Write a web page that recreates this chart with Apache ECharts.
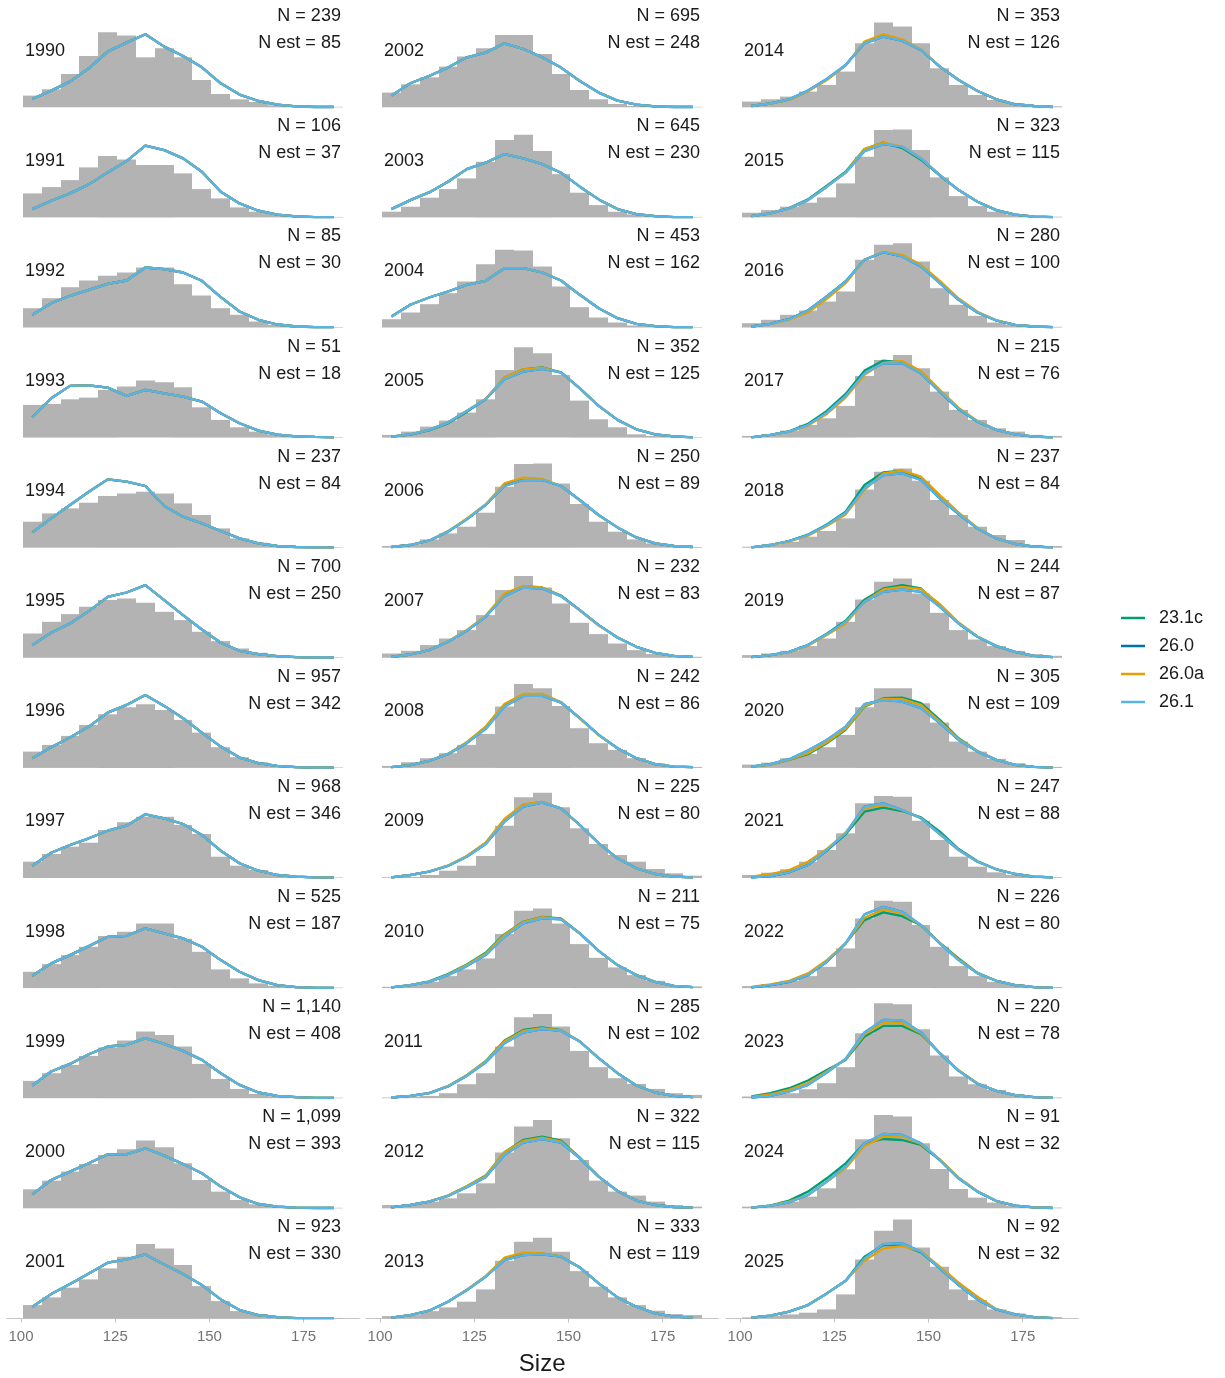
<!DOCTYPE html>
<html>
<head>
<meta charset="utf-8">
<script src="https://cdn.jsdelivr.net/npm/echarts@6/dist/echarts.min.js"></script>
<style>
html,body{margin:0;padding:0;background:#fff;}
#chart{width:1225px;height:1378px;}
</style>
</head>
<body>
<div id="chart"></div>
<script>
// ---------------- data ----------------
const YEARS = [1990,1991,1992,1993,1994,1995,1996,1997,1998,1999,2000,2001,
               2002,2003,2004,2005,2006,2007,2008,2009,2010,2011,2012,2013,
               2014,2015,2016,2017,2018,2019,2020,2021,2022,2023,2024,2025];
const N_OBS = [239,106,85,51,237,700,957,968,525,1140,1099,923,
               695,645,453,352,250,232,242,225,211,285,322,333,
               353,323,280,215,237,244,305,247,226,220,91,92];
const N_EST = [85,37,30,18,84,250,342,346,187,408,393,330,
               248,230,162,125,89,83,86,80,75,102,115,119,
               126,115,100,76,84,87,109,88,80,78,32,32];
const BIN_CENTERS = [103,108,113,118,123,128,133,138,143,148,153,158,163,168,173,178,183];
const BIN_WIDTH = 5;
const X_TICKS = [100,125,150,175];
const SERIES_NAMES = ['23.1c','26.0','26.0a','26.1'];
const SERIES_COLORS = ['#009E73','#0072B2','#E69F00','#56B4E9'];

// histogram heights (relative density units)
const HIST_1990 = [11.7,18,33.3,51.3,75,71.7,50,59,50,27.3,13.3,8,5.3,2,1,0.5,0.5];
const HIST_1991 = [24,30.3,37.3,50,61.3,58,52.3,52.3,44,28.3,19,10,5.7,3.3,1.3,0.5,0.5];
const HIST_1992 = [19.3,29.3,40.3,47,51.7,55,60,60,43.3,32,19.3,12.7,6,2.7,1,0.5,0.5];
const HIST_1993 = [32.7,33.7,38.3,40,47.7,51,57,55.3,50.3,30.3,17.7,10.3,6,3,1.7,1,0.5];
const HIST_1994 = [26,34.3,39.3,45,51.7,54.3,56,54.3,44.3,32.7,19.3,9.3,5,2.7,1,0.5,0.5];
const HIST_1995 = [24.3,36,43.7,51,57.7,59.3,55,46,37.7,26,16.7,9.3,5,2.7,1,0.5,0.5];
const HIST_1996 = [16.3,23,32,43,53.7,60.7,63.7,58,48,35.3,20.7,10.7,5.7,2.7,1.3,0.7,0.5];
const HIST_1997 = [16.3,24,31.3,35.3,48,55.7,61.3,61.3,53,44,21.3,12.3,8,3.7,1.7,1,0.5];
const HIST_1998 = [16.3,24,33,41.3,52,56.3,64.7,64.7,49.3,36.3,18.7,9.7,4.7,2.3,1,0.5,0.5];
const HIST_1999 = [17.3,25,33.3,42.3,50.7,57.7,66.7,63.3,51.7,34.3,19.3,9.3,4.3,2,1,0.5,0.5];
const HIST_2000 = [19,27.7,36.7,44.3,53.3,59,67.7,61,45,28.3,16.7,8.3,4,1.7,0.7,0.5,0.5];
const HIST_2001 = [13.3,21,30.7,39,50,61.7,74.3,70,53.3,32.3,17.3,7.3,4.3,1.7,0.7,0.5,0.5];
const HIST_2002 = [14.7,23,30,40.7,50.7,59,72.3,72.3,53.3,33.3,17.3,8,3.3,1.3,0.7,0.5,0.5];
const HIST_2003 = [5.7,10.7,19.7,28.3,39,55.7,77.3,82.7,66.3,43.3,24.7,12.3,5.7,3,1.3,0.5,0.5];
const HIST_2004 = [8.3,15,23.3,34.3,46,63.3,77.7,77,61,41,20.3,10,5,2,0.7,0.5,0.5];
const HIST_2005 = [2.7,6,11,17,25,38.3,67.7,90.3,84.3,62.7,37,18.3,10.3,3.3,1.7,1,0.5];
const HIST_2006 = [1.7,3.3,8.3,14.3,21,35,61,83.7,84.3,64.3,43.7,26,16,8.3,4.3,2,0.7];
const HIST_2007 = [4.3,7,12.7,19.3,27.7,42.7,67.7,81.7,70.3,54.3,35,23.7,14.3,7.7,3.7,2,1];
const HIST_2008 = [2,5.7,9.7,14.7,23,34,61.3,84,79.7,62,39.7,24.7,18,9.7,4.7,2,1];
const HIST_2009 = [0.7,1,3,7.3,12.3,22,52.3,80.7,85.3,70.7,49.7,34,23,16.3,9,4.7,2.3];
const HIST_2010 = [1.3,3,6.3,12,18.7,29.7,54,77.3,79.7,64.7,44,30.3,20.7,13,7.3,3,1.7];
const HIST_2011 = [0.7,1.7,2.3,5,14,25,51.7,81,84.3,71.7,47.3,31,20,14.3,9.3,5,3.3];
const HIST_2012 = [3.3,4,6.7,10,15,25,55.7,81.7,88.3,70,48.3,27.7,16.7,12.7,6.7,3.3,1.7];
const HIST_2013 = [2.3,3.3,7.3,11,16.7,29,57.7,76.7,80.7,66.7,47.3,31.7,21,13.3,7.7,4.3,3.3];
const HIST_2014 = [5.7,8,10.7,15.7,22.3,35.7,64,84.7,80.7,64,39,22.3,12.3,7.3,4,2,1];
const HIST_2015 = [4.7,7.3,10.7,14.7,20,34,60.7,87.3,88,67.3,40,21.3,11.3,5.7,3,1.3,0.7];
const HIST_2016 = [4.3,7.7,12.7,17,26,36,67.7,82.7,84.3,66,39.3,22.7,11.7,5,2.7,1.3,0.7];
const HIST_2017 = [1.7,3.3,7,12.7,19.3,31.7,61.7,77.7,82.7,69.3,46,27.7,17.7,9.3,6,2.7,1.7];
const HIST_2018 = [1,2.7,6,11,16.7,29.3,58.3,76,79.3,67,47.7,32.7,21,12.7,7.7,2.7,1.7];
const HIST_2019 = [2.7,4.3,7,11.7,19.3,36,58.3,76,79.3,64.3,45,27.7,18.3,11.7,7,3.7,2];
const HIST_2020 = [3.3,5.3,9.7,14,20.7,33,60.7,79.7,79.7,64.7,45.3,26.3,16.3,9,4.7,2,1];
const HIST_2021 = [3,5.3,8.7,16.3,28,44.7,74.7,82,81.3,57.3,38,21.3,11.3,5.7,3,1.3,0.7];
const HIST_2022 = [2,4,7.3,12,21.3,39.7,69.7,87.3,86.3,63,41.3,22,12,6.3,4,2,1];
const HIST_2023 = [1.7,3.3,5,9,15,31,65,95,94,69,42.7,21.7,14,8.3,4,1.7,0.7];
const HIST_2024 = [1.7,3.3,6.7,11.7,20,39,69,93.3,91.7,65,39.3,19.3,10.7,5.7,2.7,1.3,0.7];
const HIST_2025 = [1,2.3,4,5.7,9,24,59,87.7,99,71,51.7,29,18.3,9,5,2.3,1.3];

// fitted curves (same units); early years: all model versions overlap
const FIT_1990 = [8.3,16.7,25.7,39,55.7,64.7,73,60.7,51.3,40,24,12.7,6.3,2.7,1,0.3,0.3];
const FIT_1991 = [8.3,16.7,24,33,45,56.3,71.7,67.3,59,45.7,25.7,14,6.7,2.7,1,0.3,0.3];
const FIT_1992 = [12.7,24.3,31.7,37.7,43.7,47,60,58.3,55,46.7,30.3,16,7.7,3,1,0.3,0.3];
const FIT_1993 = [20.3,39.3,51.7,52.3,50,41.7,47.7,44.3,41,36,24.3,14.3,7,3,1.3,0.7,0.3];
const FIT_1994 = [15.3,29.3,42.7,56,68.3,66,61.7,41.7,31,24.3,16.7,9.3,4.3,1.7,0.7,0.3,0.3];
const FIT_1995 = [12.7,25,34.3,46.7,61,65.3,72.7,57.7,42.7,28.3,15,7,3.7,1.7,0.7,0.3,0.3];
const FIT_1996 = [9.7,20.7,30.3,41.3,55.3,63,73,62,49.7,35.3,21.3,10.3,4.7,2,0.7,0.3,0.3];
const FIT_1997 = [12.3,25.3,33,39.7,47.3,52.3,63.7,59.7,54,43,27.3,14.7,7.3,3,1.3,0.7,0.3];
const FIT_1998 = [12.3,24.7,33,42,51.3,52.3,59.7,54.7,49.7,41.3,28,16.3,8,3,1,0.3,0.3];
const FIT_1999 = [12.7,26.7,34.3,44,51.7,53.3,60,54.3,47.3,38.3,25,13.3,5.7,2.3,1,0.3,0.3];
const FIT_2000 = [14,28.3,36.7,45,54,54,60,52.7,44.3,35,21.7,11,4.3,1.7,0.7,0.3,0.3];
const FIT_2001 = [11.7,24.3,34.3,45,55.7,59,64,54,44.3,33.3,19,8.3,3.3,1.3,0.3,0.3,0.3];
const FIT_2002 = [11.7,24,31.3,39.7,50,54.7,64,58.3,50,39.7,26.3,14.7,6.7,2.7,1,0.3,0.3];
const FIT_2003 = [8.3,17.3,25,35.7,48.3,54.7,63.3,59,53.3,44.7,30.7,18,8.3,3.3,1.3,0.3,0.3];
const FIT_2004 = [11,22.7,30,36,42.7,46.7,59.3,59.3,55,47,32.7,19.3,9.3,3.7,1.3,0.3,0.3];

const FIT_2005_261  = [1,3.3,7.7,15,26.7,38.3,58.3,66,68.7,65.3,49.3,31.7,17.7,8.3,3.3,1.3,0.3];
const FIT_2005_231c = [1,3,7.3,14.3,25.7,38.3,60,68.3,70.3,65.3,49.3,31.7,17.7,8.3,3.3,1.3,0.3];
const FIT_2005_260a = [1,3.3,7.7,15,26.7,38.7,60,68.3,70,65,49.3,31.7,17.7,8.3,3.3,1.3,0.3];
const FIT_2006_261  = [0.7,2.7,7,16,28.3,42.7,61.7,67.7,67.7,61.7,47.7,32.7,20.3,10.3,4.3,1.7,0.7];
const FIT_2006_231c = [0.7,2.7,7,16.3,28.7,43,63.3,69.3,68.3,61.7,47.3,32.3,20.3,10.3,4.3,1.7,0.7];
const FIT_2006_260a = [0.7,2.7,7,16.3,29,43.3,64.3,70,68.7,61.7,47.3,32.3,20.3,10.3,4.3,1.7,0.7];
const FIT_2007_261  = [1,3.3,7.7,16,27,41,61.7,70.3,69.3,61.7,47.7,32.7,20.3,11,5,2,1];
const FIT_2007_231c = [1,3.3,7.7,16,27.3,41.3,63,71.3,70.3,62.3,47.7,32.7,20.3,11,5,2,1];
const FIT_2007_260a = [1,3.3,7.7,16.3,27.7,42,64.3,72,70.3,61.7,47.3,32.3,20.3,11,5,2,1];
const FIT_2008_261  = [0.7,2.7,7,13.7,24.7,39,61.3,72,72.3,65.3,49.7,33,19.7,9.7,3.7,1.3,0.7];
const FIT_2008_231c = [0.7,2.7,7,14,25.3,40.7,63.3,73.3,73.7,65.7,49.7,33,19.7,9.7,3.7,1.3,0.7];
const FIT_2008_260a = [0.7,2.7,7,14,25.7,41.3,64,74,74,65.7,49.3,32.7,19.7,9.7,3.7,1.3,0.7];
const FIT_2009_261  = [0.7,3,6.3,12,21.3,34,56.3,71.3,75.3,69.7,53,34.7,19.7,9.7,4,1.3,0.7];
const FIT_2009_231c = [0.7,3,6.3,12.3,21.7,35,58.3,73,76,69.7,53,34.7,19.7,9.7,4,1.3,0.7];
const FIT_2009_260a = [0.7,3,6.3,12.3,22,35.3,59,73.7,76,69.7,52.7,34.3,19.7,9.7,4,1.3,0.7];
const FIT_2010_261  = [0.7,3,6.3,13,22,33,51.3,64.7,69.7,68.7,54.7,37.3,23,13,6.3,2.3,1];
const FIT_2010_231c = [0.7,3,6.7,14,23.7,35.3,54,66.3,71.3,69.7,54.7,37.3,23,13,6.3,2.3,1];
const FIT_2010_260a = [0.7,3,6.3,13.3,23,34.3,53.3,66,71,69.3,54.3,37.3,23,13,6.3,2.3,1];
const FIT_2011_261  = [0.7,2.3,5,11.7,22.3,35.7,55,65.7,69,67.3,56.7,40,25,12.7,5.7,2.3,1];
const FIT_2011_231c = [0.7,2.3,5,12,23,37,57.7,68.3,70.7,68,56.7,40,25,12.7,5.7,2.3,1];
const FIT_2011_260a = [0.7,2.3,5,12,22.7,36.7,57,67.3,70,67.7,56.7,40,25,12.7,5.7,2.3,1];
const FIT_2012_261  = [1,3.3,6.7,12.3,21,31,53.3,65.7,69.3,65.7,50,31.7,17.3,7.7,3.3,1.3,0.7];
const FIT_2012_231c = [1,3.3,6.7,12.7,22,32.7,56,68.3,71.7,67.7,50.7,31.7,17.3,7.7,3.3,1.3,0.7];
const FIT_2012_260a = [1,3.3,6.7,12.7,21.7,32.3,56,67.3,70.7,66.7,50.3,31.7,17.3,7.7,3.3,1.3,0.7];
const FIT_2013_261  = [0.7,3.3,7.7,16.7,28.3,41.7,58.3,63.3,64,61.7,51,35,21,11.7,5,1.7,0.7];
const FIT_2013_231c = [0.7,3.3,7.7,16.7,28.3,42,59.7,64.7,64.7,62,51,35,21,11.7,5,1.7,0.7];
const FIT_2013_260a = [0.7,3.3,7.7,16.7,28.7,42.3,60.7,65.7,65,62,50.7,35,21,11.7,5,1.7,0.7];
const FIT_2014_261  = [1.3,4,8,16.7,28.3,42.3,64,70.7,66.7,57.3,40.7,27.3,16.3,8,3,1.3,0.3];
const FIT_2014_231c = [1.3,3.7,7.7,16.3,27.7,42,65,72,67.3,57.3,40.7,27.3,16.3,8,3,1.3,0.3];
const FIT_2014_260a = [1.3,3.7,7.7,16,27.3,41.7,65.7,73,68,57.7,40.7,27.3,16.3,8,3,1.3,0.3];
const FIT_2015_261  = [1.3,4,9,17.3,30.7,44.7,66.3,73.3,70.7,59,42.3,27.3,15.7,7.3,2.7,0.7,0.3];
const FIT_2015_231c = [1.3,4,9.3,18,31.7,45.7,68.3,74.7,69.3,57.7,41.7,27.3,15.7,7.3,2.7,0.7,0.3];
const FIT_2015_260a = [1.3,4,9,17.3,30.7,45,68.3,74.7,70.7,59,42.3,27.3,15.7,7.3,2.7,0.7,0.3];
const FIT_2016_261  = [1,3.7,8.3,17,31,46,67.7,75.3,71,61,44.3,27.7,15,7,2.7,1,0.3];
const FIT_2016_231c = [1,3.7,8.3,17,31,46,67.7,75.3,71.3,61.3,44.7,27.7,15,7,2.7,1,0.3];
const FIT_2016_260a = [1,3.3,7.7,15,28.7,44.3,67.7,75.7,72.7,62.7,46.7,29,15.7,7.3,2.7,1,0.3];
const FIT_2017_261  = [0.3,2.7,6,12.7,25,41.7,64.3,74.3,74.3,64.3,46,28.7,16,7.7,3.3,1,0.3];
const FIT_2017_231c = [0.3,2.7,6.3,13.7,26.7,43.7,67,77,75.3,64.3,45.7,28.3,16,7.7,3.3,1,0.3];
const FIT_2017_260a = [0.3,2.7,5.7,12,23.7,40,62.7,74.7,76.7,66.7,47.7,29.7,16.7,7.7,3.3,1,0.3];
const FIT_2018_261  = [0.3,2.7,6.7,12.7,22.7,35,59.3,72.7,74.3,67.7,49.3,33.7,19.3,9.3,3.7,1,0.3];
const FIT_2018_231c = [0.3,2.7,6.7,13,23.3,36,62.7,75.3,77,68.3,49.3,33.7,19.3,9.3,3.7,1,0.3];
const FIT_2018_260a = [0.3,2.7,6.3,12,21.7,33.3,57.7,74.3,77,71,52.7,35,19.7,9.3,3.7,1,0.3];
const FIT_2019_261  = [0.7,2.7,6,12.7,23.7,36,56,66,68.3,66,51,34.3,21,11.7,6,2,0.7];
const FIT_2019_231c = [0.7,2.7,6,12.7,24,37,58,69.3,72.7,69.3,52,34.3,21,11.7,6,2,0.7];
const FIT_2019_260a = [0.7,2.7,5.7,12,22.7,34.3,56,68.3,71,68.7,53.7,35.3,21.3,11.7,6,2,0.7];
const FIT_2020_261  = [1.3,3.7,8.7,17.3,28,41.3,63.7,68,66.3,59.7,44.7,28,16.3,8,3,1,0.3];
const FIT_2020_231c = [1.3,3.3,8,13.7,24.7,38,61.3,69.7,70.3,64.7,48,29.7,16.7,8,3,1,0.3];
const FIT_2020_260a = [1.3,3.3,8.3,14.7,25.7,39,62,69,68.7,63,46.3,29,16.7,8,3,1,0.3];
const FIT_2021_261  = [0.7,2,5.7,13,28,44.7,71.3,74.7,68,59.7,44,28,16.3,8.7,4,1.3,0.7];
const FIT_2021_231c = [0.7,2,5.7,13,27.3,43.7,66.3,70.3,67,60.7,46.3,29,16.7,8.7,4,1.3,0.7];
const FIT_2021_260a = [1.3,4,8,16.3,29,45.3,69.7,73,68,59.7,44,28,16.3,8.7,4,1.3,0.7];
const FIT_2022_261  = [0.7,3,6.3,13,26.3,44.7,73.7,81.3,76.3,63,44.7,28,14.7,7.3,3,1,0.3];
const FIT_2022_231c = [0.7,3,6.3,13,26.3,44.7,68,75.7,72,63,45.3,29.7,15.3,7.3,3,1,0.3];
const FIT_2022_260a = [1.3,3.7,7.3,14.7,28,44.7,70.3,78.7,74.7,63,45,28.7,15,7.3,3,1,0.3];
const FIT_2023_261  = [0.7,2.3,6.7,13.3,25.7,39.3,65.7,78.3,77.7,65.7,45,27.3,14.3,7.3,3,1,0.3];
const FIT_2023_231c = [1.7,5,10,17.7,28.3,38.3,61.7,72.3,72.3,64,45,27.7,14.7,7.3,3,1,0.3];
const FIT_2023_260a = [1.3,3.7,8.3,15,26.7,39,64,75,75,65,45,27.7,14.7,7.3,3,1,0.3];
const FIT_2024_261  = [0.7,2.7,6,13.3,26.7,41.7,65,74.3,73.3,65,48.3,30,16.7,7.3,2.7,1,0.3];
const FIT_2024_231c = [0.7,2.7,7.7,16.7,30,45,65,69.3,68.3,63.3,48.3,30,16.7,7.3,2.7,1,0.3];
const FIT_2024_260a = [0.7,2.7,6.7,13.3,26.7,40,62.3,71.7,71.7,64.3,49,30.7,17,7.3,2.7,1,0.3];
const FIT_2025_261  = [0.7,2.7,6.7,13.3,25,37.7,60,74.3,75,66.7,50,33.3,19,9,4,1.3,0.3];
const FIT_2025_231c = [0.7,2.7,6.7,13.3,25,37.7,61.7,73.3,73.3,66,50,33.3,19,9,4,1.3,0.3];
const FIT_2025_260a = [0.7,2.7,6.7,13.3,25,37.7,57.7,70,72.3,67.3,51.7,35.7,21.7,9.3,4,1.3,0.3];

// ---------------- tables built from the arrays ----------------
const HIST_ALL = [HIST_1990,HIST_1991,HIST_1992,HIST_1993,HIST_1994,HIST_1995,HIST_1996,HIST_1997,HIST_1998,HIST_1999,HIST_2000,HIST_2001,
  HIST_2002,HIST_2003,HIST_2004,HIST_2005,HIST_2006,HIST_2007,HIST_2008,HIST_2009,HIST_2010,HIST_2011,HIST_2012,HIST_2013,
  HIST_2014,HIST_2015,HIST_2016,HIST_2017,HIST_2018,HIST_2019,HIST_2020,HIST_2021,HIST_2022,HIST_2023,HIST_2024,HIST_2025];
function same4(a){ return [a,a,a,a]; }
// order: 23.1c, 26.0, 26.0a, 26.1
const FIT_ALL = [same4(FIT_1990),same4(FIT_1991),same4(FIT_1992),same4(FIT_1993),same4(FIT_1994),same4(FIT_1995),
  same4(FIT_1996),same4(FIT_1997),same4(FIT_1998),same4(FIT_1999),same4(FIT_2000),same4(FIT_2001),
  same4(FIT_2002),same4(FIT_2003),same4(FIT_2004),
  [FIT_2005_231c,FIT_2005_261,FIT_2005_260a,FIT_2005_261],
  [FIT_2006_231c,FIT_2006_261,FIT_2006_260a,FIT_2006_261],
  [FIT_2007_231c,FIT_2007_261,FIT_2007_260a,FIT_2007_261],
  [FIT_2008_231c,FIT_2008_261,FIT_2008_260a,FIT_2008_261],
  [FIT_2009_231c,FIT_2009_261,FIT_2009_260a,FIT_2009_261],
  [FIT_2010_231c,FIT_2010_261,FIT_2010_260a,FIT_2010_261],
  [FIT_2011_231c,FIT_2011_261,FIT_2011_260a,FIT_2011_261],
  [FIT_2012_231c,FIT_2012_261,FIT_2012_260a,FIT_2012_261],
  [FIT_2013_231c,FIT_2013_261,FIT_2013_260a,FIT_2013_261],
  [FIT_2014_231c,FIT_2014_261,FIT_2014_260a,FIT_2014_261],
  [FIT_2015_231c,FIT_2015_261,FIT_2015_260a,FIT_2015_261],
  [FIT_2016_231c,FIT_2016_261,FIT_2016_260a,FIT_2016_261],
  [FIT_2017_231c,FIT_2017_261,FIT_2017_260a,FIT_2017_261],
  [FIT_2018_231c,FIT_2018_261,FIT_2018_260a,FIT_2018_261],
  [FIT_2019_231c,FIT_2019_261,FIT_2019_260a,FIT_2019_261],
  [FIT_2020_231c,FIT_2020_261,FIT_2020_260a,FIT_2020_261],
  [FIT_2021_231c,FIT_2021_261,FIT_2021_260a,FIT_2021_261],
  [FIT_2022_231c,FIT_2022_261,FIT_2022_260a,FIT_2022_261],
  [FIT_2023_231c,FIT_2023_261,FIT_2023_260a,FIT_2023_261],
  [FIT_2024_231c,FIT_2024_261,FIT_2024_260a,FIT_2024_261],
  [FIT_2025_231c,FIT_2025_261,FIT_2025_260a,FIT_2025_261]];

// ---------------- layout ----------------
const FONT = '"Liberation Sans", Arial, Helvetica, sans-serif';
const COL_LEFT = [6.9, 366, 726];
const GRID_W = 352.3;
const GRID_H = 104;
const ROW_BASE0 = 107.3;
const ROW_PITCH = 110.1;
const X_MIN = 96.25, X_MAX = 189.75;
const ROWS = 12;

const grids = [], xAxes = [], yAxes = [], series = [], graphics = [];

YEARS.forEach((yr, i) => {
  const col = Math.floor(i / ROWS), row = i % ROWS;
  const left = COL_LEFT[col];
  const base = ROW_BASE0 + ROW_PITCH * row;
  const top = base - GRID_H;
  grids.push({left: left, top: top, width: GRID_W, height: GRID_H, containLabel: false});
  const bottom = row === ROWS - 1;
  const xa = {
    type: 'value', gridIndex: i, min: X_MIN, max: X_MAX,
    show: bottom,
    splitLine: {show: false},
    axisLine: {show: bottom, lineStyle: {color: '#c4c4c4', width: 1}},
    axisTick: {show: bottom, customValues: X_TICKS, length: 4, lineStyle: {color: '#c4c4c4'}},
    axisLabel: {show: bottom, customValues: X_TICKS, margin: 11, fontSize: 15, color: '#747474', fontFamily: FONT}
  };
  if (bottom && col === 1) {
    xa.name = 'Size';
    xa.nameLocation = 'middle';
    xa.nameGap = 34;
    xa.nameTextStyle = {fontSize: 24, color: '#1a1a1a', fontFamily: FONT};
  }
  xAxes.push(xa);
  yAxes.push({type: 'value', gridIndex: i, min: 0, max: GRID_H, show: false, splitLine: {show: false}});

  const hist = HIST_ALL[i];
  series.push({
    type: 'custom', name: 'hist', xAxisIndex: i, yAxisIndex: i, silent: true, z: 1,
    data: BIN_CENTERS.map((c, k) => [c, hist[k]]),
    renderItem: function (params, api) {
      const c = api.value(0), h = api.value(1);
      const p0 = api.coord([c - BIN_WIDTH / 2, 0]);
      const p1 = api.coord([c + BIN_WIDTH / 2, h]);
      const xa0 = Math.round(p0[0]), xa1 = Math.round(p1[0]);
      return {type: 'rect', shape: {x: xa0, y: p1[1], width: xa1 - xa0, height: p0[1] - p1[1]},
              style: {fill: '#B3B3B3'}};
    }
  });
  const fits = FIT_ALL[i];
  SERIES_NAMES.forEach((nm, s) => {
    series.push({
      type: 'line', name: nm, xAxisIndex: i, yAxisIndex: i, silent: true, z: 2 + s,
      symbol: 'none', showSymbol: false,
      color: SERIES_COLORS[s],
      itemStyle: {color: SERIES_COLORS[s]},
      lineStyle: {color: SERIES_COLORS[s], width: 2.3},
      data: BIN_CENTERS.map((c, k) => [c, fits[s][k]])
    });
  });

  const txt = {fontSize: 18, fill: '#1a1a1a', fontFamily: FONT};
  graphics.push({type: 'text', x: left + 18, y: base - 56.5,
    style: Object.assign({text: String(yr), align: 'left', verticalAlign: 'middle', textAlign: 'left', textVerticalAlign: 'middle'}, txt)});
  graphics.push({type: 'text', x: left + GRID_W - 18.3, y: base - 91,
    style: Object.assign({text: 'N = ' + N_OBS[i].toLocaleString('en-US'), align: 'right', verticalAlign: 'middle', textAlign: 'right', textVerticalAlign: 'middle'}, txt)});
  graphics.push({type: 'text', x: left + GRID_W - 18.3, y: base - 64,
    style: Object.assign({text: 'N est = ' + N_EST[i].toLocaleString('en-US'), align: 'right', verticalAlign: 'middle', textAlign: 'right', textVerticalAlign: 'middle'}, txt)});
});

const chart = echarts.init(document.getElementById('chart'), null, {renderer: 'canvas'});
chart.setOption({
  animation: false,
  backgroundColor: '#ffffff',
  textStyle: {fontFamily: FONT},
  grid: grids,
  xAxis: xAxes,
  yAxis: yAxes,
  legend: {
    data: SERIES_NAMES,
    orient: 'vertical',
    left: 1116, top: 604,
    icon: 'rect',
    itemWidth: 24, itemHeight: 2.5,
    itemGap: 10,
    selectedMode: false,
    textStyle: {fontSize: 18, lineHeight: 18, color: '#1a1a1a', fontFamily: FONT, padding: [0, 0, 0, 9]}
  },
  series: series,
  graphic: {elements: graphics}
});
</script>
</body>
</html>
